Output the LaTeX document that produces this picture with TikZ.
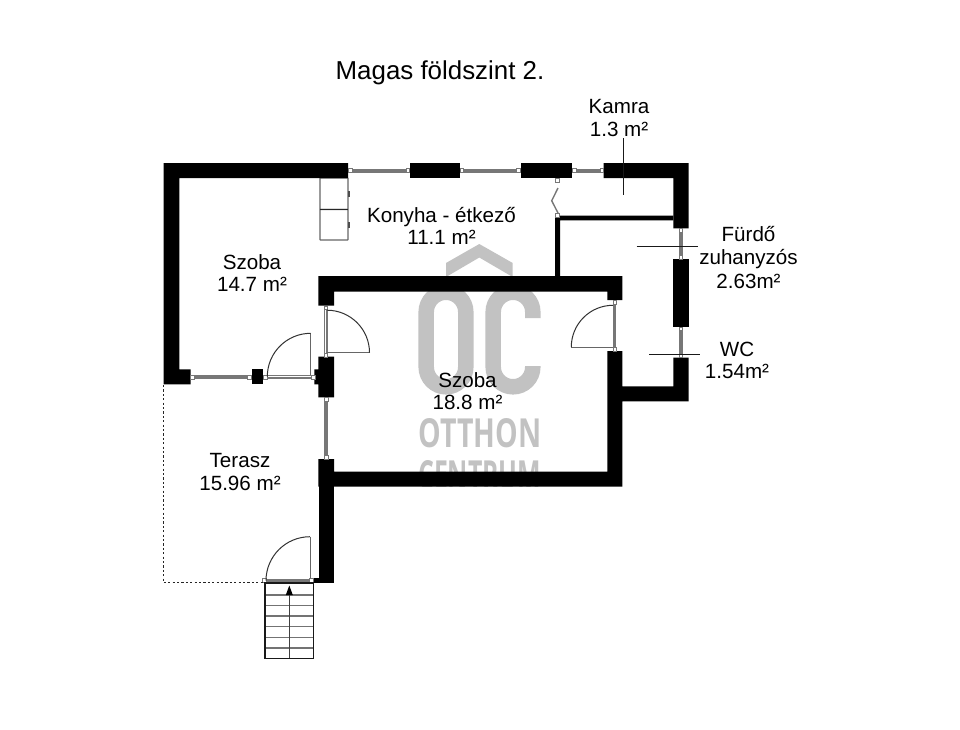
\documentclass[tikz,border=0pt]{standalone}
\usepackage{fontspec}
\setmainfont{Liberation Sans}
\newfontfamily\wmfont{Open Sans}
\definecolor{wm}{HTML}{C2C2C2}
\definecolor{glass}{HTML}{777777}
\tikzset{
  wall/.style={fill=black,draw=none},
  wm shape/.style={fill=wm,draw=none},
  wm ring/.style={draw=wm,line width=15.5pt,fill=none,line cap=butt},
  glazing/.style={draw=glass,line width=4pt},
  frame box/.style={draw=glass,fill=white,line width=0.6pt,minimum size=3.8pt,inner sep=0pt},
  door line/.style={draw=black!80,line width=1pt},
  door leaf/.style={draw=black!60,line width=1pt},
  dim line/.style={draw=black!90,line width=0.9pt},
  cab/.style={draw=black!60,line width=1.1pt,fill=white,rounded corners=0.5pt},
  stair/.style={draw=black!55,line width=1.1pt},
  label/.style={align=center,inner sep=0pt,font=\fontsize{20.6}{22.2}\selectfont},
}
\begin{document}
\begin{tikzpicture}[x=1pt,y=-1pt]
\useasboundingbox (0,0) rectangle (960,729);
\fill[white] (0,0) rectangle (960,729);

% watermark
\fill[wm shape] (446,263) -- (479.3,244) -- (512.7,263) -- (512.7,277) -- (479.3,257.5) -- (446,277) -- cycle;
\draw[wm ring] (426.2,312) -- (426.2,367) arc[start angle=180,end angle=0,radius=19.8] -- (465.8,312) arc[start angle=0,end angle=-180,radius=19.8] -- cycle;
\draw[wm ring] (532.8,318) -- (532.8,312) arc[start angle=0,end angle=-180,radius=19.8] -- (493.2,367) arc[start angle=180,end angle=0,radius=19.8] -- (532.8,366);
\node[text=wm,inner sep=0pt,anchor=north west] (otthon) at (418,418) {\resizebox{123pt}{29pt}{\wmfont\bfseries OTTHON}};
\begin{scope}
\clip (400,450) rectangle (560,486);
\node[text=wm,inner sep=0pt,anchor=north west] (centrum) at (418,460) {\resizebox{123pt}{29pt}{\wmfont\bfseries CENTRUM}};
\end{scope}

% cabinets
\draw[cab] (320,178) rectangle (348,209.5);
\draw[cab] (320,209.5) rectangle (348,240);
\draw[black!85,line width=0.9pt] (320,209.5) -- (348,209.5);
\fill[black!70] (347.5,191) rectangle (349.5,197);
\fill[black!70] (347.5,222) rectangle (349.5,228);

% glazing
\draw[glazing] (349,170.5) -- (409,170.5);
\draw[glazing] (460,170.5) -- (520,170.5);
\draw[glazing] (572,170.5) -- (603,170.5);
\draw[glazing] (680.8,228) -- (680.8,260);
\draw[glazing] (680.8,326) -- (680.8,358);
\draw[glazing] (192,377.3) -- (250,377.3);
\draw[glazing] (264,376.8) -- (314,376.8);
\draw[glazing] (326,397) -- (326,459);
\draw[glazing] (325.8,306) -- (325.8,357);
\draw[glazing] (614.8,300) -- (614.8,351);
\draw[glazing] (264,580.8) -- (312,580.8);
\draw[white,line width=0.8pt] (264,376.8) -- (314,376.8);
\draw[white,line width=0.8pt] (325.8,306) -- (325.8,357);
\draw[white,line width=0.6pt] (616.3,300) -- (616.3,351);

% walls
\fill[wall] (163.5,163) -- (348,163) -- (348,178) -- (179.3,178) -- (179.3,369.3) -- (190.7,369.3) -- (190.7,384.3) -- (163.5,384.3) -- cycle;
\fill[wall] (409.5,163) rectangle (459.7,178);
\fill[wall] (520.7,163) rectangle (572.3,178);
\fill[wall] (603.7,163) -- (688.7,163) -- (688.7,228.3) -- (673.3,228.3) -- (673.3,178) -- (603.7,178) -- cycle;
\fill[wall] (555,215.7) -- (673.3,215.7) -- (673.3,220.3) -- (560,220.3) -- (560,277) -- (555,277) -- cycle;
\fill[wall] (673.3,259.3) rectangle (688.7,326.7);
\fill[wall] (673.3,357.7) -- (688.7,357.7) -- (688.7,401.3) -- (622.3,401.3) -- (622.3,486.7) -- (318.3,486.7) -- (318.3,459) -- (334,459) -- (334,471.7) -- (607.3,471.7) -- (607.3,351) -- (622.3,351) -- (622.3,386.3) -- (673.3,386.3) -- cycle;
\fill[wall] (318.3,276) -- (622.3,276) -- (622.3,300) -- (607.3,300) -- (607.3,291.7) -- (334,291.7) -- (334,305.7) -- (318.3,305.7) -- cycle;
\fill[wall] (251.7,369.3) rectangle (263.3,384.3);
\fill[wall] (318.3,356.7) -- (334,356.7) -- (334,397.3) -- (318.3,397.3) -- (318.3,384.3) -- (314.3,384.3) -- (314.3,369.3) -- (318.3,369.3) -- cycle;
\fill[wall] (318.7,486) rectangle (334,582.7);
\fill[wall] (312.7,578.3) rectangle (319,582.7);

% window frames
\foreach \fx/\fy in {350.3/170.5,407.7/170.5,461.7/170.5,518/170.5,574.3/170.5,601.7/170.5,
  680.8/230.5,680.8/257.3,680.8/328.7,680.8/355.7,
  192.5/377.3,249.5/377.3,265/377.3,313/377.3,
  326/399,326/457,325.8/307.7,325.8/355,614.8/302,614.8/349,
  264.3/580.5,311.5/580.5,557.5/180,557.5/215}
  \node[frame box] at (\fx,\fy) {};

% folding door
\draw[glass,line width=1.4pt] (558,188) -- (551.7,200.7) -- (558,213);

% swing doors
\draw[door leaf] (310.7,375) -- (310.7,333.3);
\draw[door line] (310.7,333.3) arc[start angle=270,end angle=180,radius=43.4];
\draw[door leaf] (327,352.7) -- (369.5,352.7);
\draw[door line] (369.5,352.7) arc[start angle=0,end angle=-90,radius=42.5];
\draw[door leaf] (613,347) -- (571.3,347);
\draw[door line] (571.3,347) arc[start angle=180,end angle=270,radius=41.7];
\draw[door leaf] (310,578) -- (310,536.7);
\draw[door line] (310,536.7) arc[start angle=270,end angle=180,radius=44];

% terrace edge
\draw[black!85,line width=0.8pt,dash pattern=on 2.2pt off 2.2pt] (163.5,385) -- (163.5,582.7) -- (263,582.7);

% stairs
\foreach \sy in {595,605.3,616,626.7,637.3,648}
  \draw[stair] (265,\sy) -- (313.3,\sy);
\draw[black!90,line width=1.3pt] (265,583) rectangle (313.3,658.3);
\draw[black!75,line width=0.9pt] (289.3,590) -- (289.3,658.3);
\fill[black] (289.3,585.5) -- (292.8,595) -- (285.8,595) -- cycle;

% dimension ticks
\draw[dim line] (623.3,138) -- (623.3,195);
\draw[dim line] (636.7,246) -- (698,246);
\draw[dim line] (649.3,354.7) -- (700,354.7);

% texts
\node[inner sep=0pt,font=\fontsize{25.9}{30}\selectfont] (title) at (440,72.5) {Magas földszint 2.};
\node[label] (kamra) at (619,118) {Kamra\\1.3 m²};
\node[label] (konyha) at (441.5,226) {Konyha - étkező\\11.1 m²};
\node[label] (szoba1) at (252,273) {Szoba\\14.7 m²};
\node[label,font=\fontsize{20.6}{23.7}\selectfont] (furdo) at (748.5,257.5) {Fürdő\\zuhanyzós\\2.63m²};
\node[label] (wc) at (737,360.5) {WC\\1.54m²};
\node[label] (szoba2) at (467.5,391) {Szoba\\18.8 m²};
\node[label] (terasz) at (240,472) {Terasz\\15.96 m²};
\end{tikzpicture}
\end{document}
